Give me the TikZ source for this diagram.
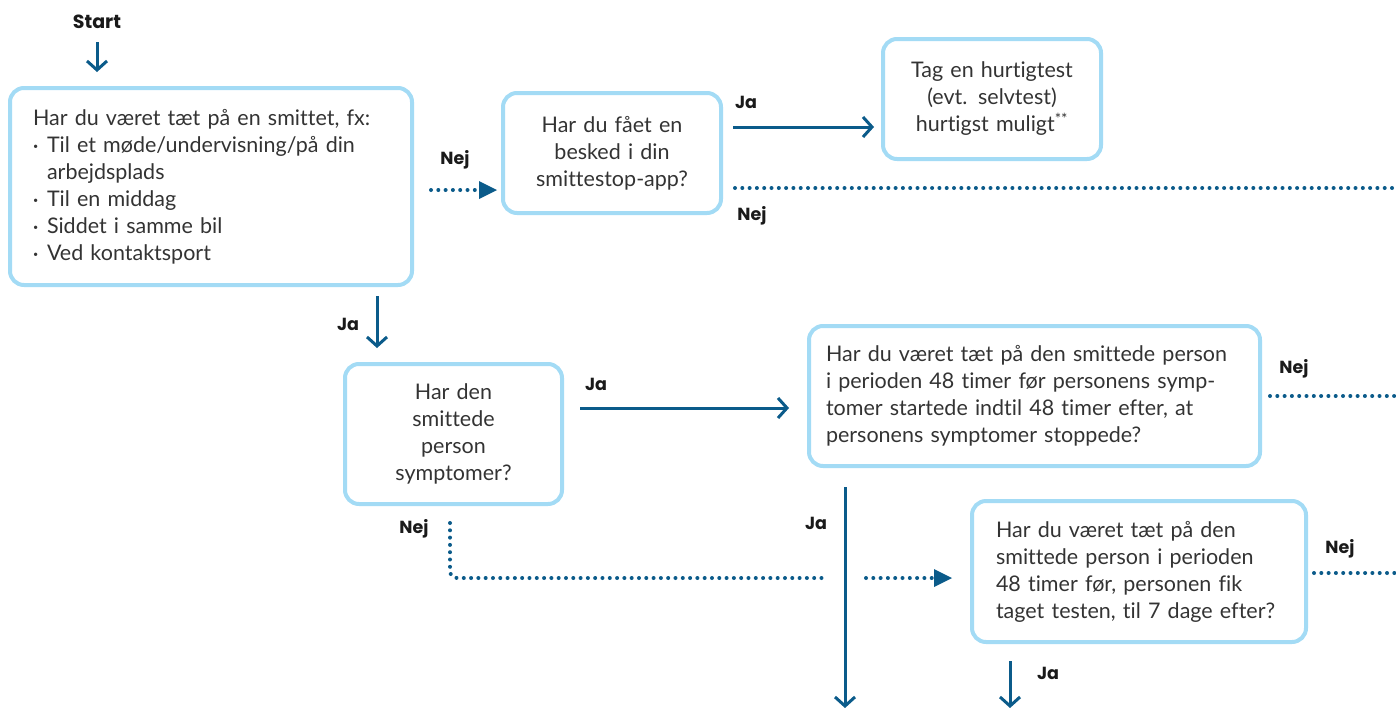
\documentclass[tikz,border=0pt]{standalone}
\usepackage{fontspec}
\setmainfont{Lato}[Ligatures={NoCommon,NoRare}]
\newfontfamily\lblfont{Poppins}
\usetikzlibrary{arrows.meta,calc}
\definecolor{boxblue}{HTML}{A3DBF5}
\definecolor{arrblue}{HTML}{0B5B8A}
\definecolor{txt}{HTML}{333333}
\definecolor{lbl}{HTML}{1A1A1A}
\tikzset{
  qbox/.style={draw=boxblue, line width=4pt, rounded corners=14pt, text=txt,
    font=\fontsize{21.5}{27}\selectfont, inner sep=0pt},
  jaline/.style={draw=arrblue, line width=3pt, -{Straight Barb[length=9pt,width=20pt]}},
  nejline/.style={draw=arrblue, line width=4pt, line cap=round, dash pattern=on 0pt off 7.3pt},
  nejtip/.style={fill=arrblue, draw=none},
  lab/.style={text=lbl, font=\lblfont\bfseries\fontsize{17.5}{20}\selectfont, inner sep=0pt},
}
\newcommand{\bul}{\makebox[14pt][l]{\raisebox{3pt}{\fontsize{9}{9}\selectfont\textbullet}}}
\begin{document}
\begin{tikzpicture}[x=1pt,y=-1pt]
\useasboundingbox (0,0) rectangle (1396,707);
% boxes
\node[qbox, minimum width=402, minimum height=197, text width=356, align=left] (b1) at (211,186.5)
 {Har du været tæt på en smittet, fx:\\
  \bul Til et møde/undervisning/på din\\
  \hspace*{14pt}arbejdsplads\\
  \bul Til en middag\\
  \bul Siddet i samme bil\\
  \bul Ved kontaktsport};
\node[qbox, minimum width=218, minimum height=120, text width=200, align=center] (b2) at (612,153)
 {Har du fået en\\ besked i din\\ smittestop-app?};
\node[qbox, minimum width=218, minimum height=120, text width=200, align=center] (b3) at (992,99)
 {Tag en hurtigtest\\ (evt. selvtest)\\ hurtigst muligt\textsuperscript{**}};
\node[qbox, minimum width=217, minimum height=140, text width=200, align=center] (b4) at (453.5,434)
 {Har den\\ smittede\\ person\\ symptomer?};
\node[qbox, minimum width=451, minimum height=140, text width=417, align=left] (b5) at (1034.5,396)
 {Har du været tæt på den smittede person\\ i perioden 48 timer før personens symp-\\ tomer startede indtil 48 timer efter, at\\ personens symptomer stoppede?};
\node[qbox, minimum width=334, minimum height=141, text width=286, align=left] (b6) at (1139,571.5)
 {Har du været tæt på den\\ smittede person i perioden\\ 48 timer før, personen fik\\ taget testen, til 7 dage efter?};
% labels
\node[lab, font=\lblfont\bfseries\fontsize{19}{20}\selectfont] (start) at (97,22) {Start};
\node[lab] (l1) at (455,160) {Nej};
\node[lab] (l2) at (746,102) {Ja};
\node[lab] (l3) at (752,216) {Nej};
\node[lab] (l4) at (348,324) {Ja};
\node[lab] (l5) at (596,384) {Ja};
\node[lab] (l6) at (1294,369) {Nej};
\node[lab] (l7) at (816,523) {Ja};
\node[lab] (l8) at (414,529) {Nej};
\node[lab] (l9) at (1340,549) {Nej};
\node[lab] (l10) at (1048,673) {Ja};
% coordinates
\coordinate (s0) at (97,42);   \coordinate (s1) at (97,72);
\coordinate (n1a) at (431,190); \coordinate (n1b) at (497,190);
\coordinate (j2a) at (733,127); \coordinate (j2b) at (874,127);
\coordinate (n3a) at (735,188); \coordinate (n3b) at (1396,188);
\coordinate (j4a) at (377,296); \coordinate (j4b) at (377,348);
\coordinate (j5a) at (580,408); \coordinate (j5b) at (789,408);
\coordinate (n6a) at (1270,396); \coordinate (n6b) at (1396,396);
\coordinate (j7a) at (845,487); \coordinate (j7b) at (845,708);
\coordinate (n8a) at (450,523); \coordinate (n8c) at (450,578); \coordinate (n8b) at (828,578);
\coordinate (n8d) at (866,578); \coordinate (n8e) at (952,578);
\coordinate (n9a) at (1314,573); \coordinate (n9b) at (1396,573);
\coordinate (j10a) at (1010,661); \coordinate (j10b) at (1010,708);
% connectors
\draw[jaline] (s0) -- (s1);
\draw[nejline] (n1a) -- ($(n1b)+(-14,0)$);
\fill[nejtip] (n1b) -- ++(-18,-9) -- ++(0,18) -- cycle;
\draw[jaline] (j2a) -- (j2b);
\draw[nejline] (n3a) -- (n3b);
\draw[jaline] (j4a) -- (j4b);
\draw[jaline] (j5a) -- (j5b);
\draw[nejline] (n6a) -- (n6b);
\draw[jaline] (j7a) -- (j7b);
\draw[nejline, rounded corners=7pt] (n8a) -- (n8c) -- (n8b);
\draw[nejline] (n8d) -- ($(n8e)+(-14,0)$);
\fill[nejtip] (n8e) -- ++(-18,-9) -- ++(0,18) -- cycle;
\draw[nejline] (n9a) -- (n9b);
\draw[jaline] (j10a) -- (j10b);
\end{tikzpicture}
\end{document}
